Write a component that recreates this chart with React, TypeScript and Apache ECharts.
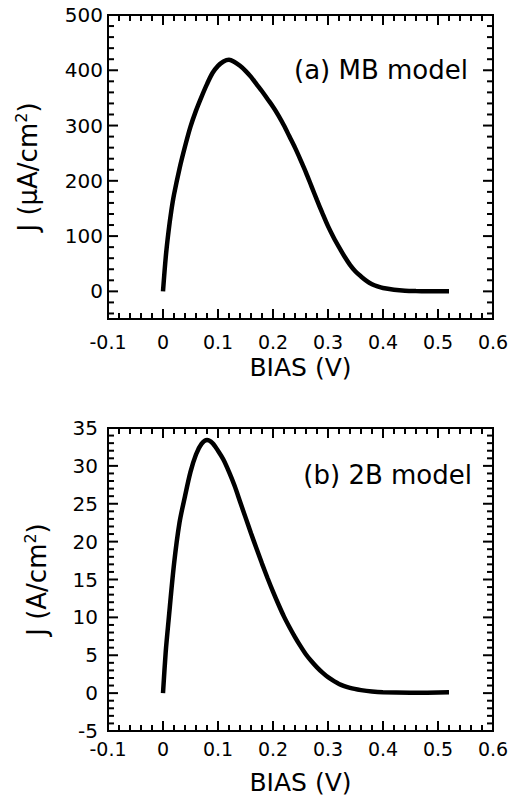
import React, { useEffect, useRef } from "react";
import * as echarts from "echarts";

// ---------- data ----------
const biasMajorTicks = [-0.1, 0, 0.1, 0.2, 0.3, 0.4, 0.5, 0.6];
const biasMinorTicks = [-0.08, -0.06, -0.04, -0.02, 0.02, 0.04, 0.06, 0.08, 0.12, 0.14, 0.16, 0.18, 0.22, 0.24, 0.26, 0.28, 0.32, 0.34, 0.36, 0.38, 0.42, 0.44, 0.46, 0.48, 0.52, 0.54, 0.56, 0.58];

// (a) MB model : J in µA/cm²
const mbBias = [0, 0.005, 0.01, 0.015, 0.02, 0.03, 0.04, 0.05, 0.06, 0.07, 0.08, 0.09, 0.1, 0.11, 0.12, 0.13, 0.14, 0.15, 0.16, 0.17, 0.18, 0.19, 0.2, 0.21, 0.22, 0.23, 0.24, 0.25, 0.26, 0.27, 0.28, 0.29, 0.3, 0.31, 0.32, 0.33, 0.34, 0.35, 0.36, 0.37, 0.38, 0.39, 0.4, 0.42, 0.44, 0.46, 0.48, 0.5, 0.52];
const mbJ = [0, 62, 108, 145, 175, 222, 262, 298, 327, 352, 375, 395, 408, 416, 419, 415, 408, 399, 388, 375, 362, 348, 334, 318, 300, 280, 260, 238, 215, 190, 165, 141, 118, 98, 80, 63, 48, 36, 27, 19, 13, 9, 6, 3, 1.2, 0.5, 0.2, 0, 0];
const mbMajorTicks = [0, 100, 200, 300, 400, 500];
const mbMinorTicks = [-40, -20, 20, 40, 60, 80, 120, 140, 160, 180, 220, 240, 260, 280, 320, 340, 360, 380, 420, 440, 460, 480];

// (b) 2B model : J in A/cm²
const tbBias = [0, 0.005, 0.01, 0.02, 0.03, 0.04, 0.05, 0.06, 0.07, 0.08, 0.09, 0.1, 0.11, 0.12, 0.13, 0.14, 0.15, 0.16, 0.17, 0.18, 0.19, 0.2, 0.21, 0.22, 0.23, 0.24, 0.25, 0.26, 0.27, 0.28, 0.29, 0.3, 0.32, 0.34, 0.36, 0.38, 0.4, 0.45, 0.52];
const tbJ = [0, 5.5, 9.5, 17, 22.5, 26, 29.2, 31.5, 32.9, 33.4, 33.0, 32.0, 30.8, 29.2, 27.4, 25.3, 23.2, 21.1, 19.1, 17.1, 15.2, 13.4, 11.7, 10.1, 8.7, 7.4, 6.2, 5.1, 4.2, 3.4, 2.7, 2.1, 1.2, 0.7, 0.4, 0.2, 0.1, 0.05, 0.1];
const tbMajorTicks = [-5, 0, 5, 10, 15, 20, 25, 30, 35];
const tbMinorTicks = [-4, -3, -2, -1, 1, 2, 3, 4, 6, 7, 8, 9, 11, 12, 13, 14, 16, 17, 18, 19, 21, 22, 23, 24, 26, 27, 28, 29, 31, 32, 33, 34];

const FONT = "DejaVu Sans";
const BLACK = "#000";
const X_MIN = -0.1;
const X_MAX = 0.6;

// inward tick marks on one side of a frame, placed through the axes' scales (scatter rects)
function tickMarks(gridIndex: number, side: "bottom" | "top" | "left" | "right", values: number[], yMin: number, yMax: number, len: number, width: number) {
  const data = values.map((v) =>
    side === "bottom" ? [v, yMin] : side === "top" ? [v, yMax] : side === "left" ? [X_MIN, v] : [X_MAX, v]
  );
  const vertical = side === "bottom" || side === "top";
  const offset =
    side === "bottom" ? [0, -len / 2] : side === "top" ? [0, len / 2] : side === "left" ? [len / 2, 0] : [-len / 2, 0];
  return {
    type: "scatter",
    xAxisIndex: gridIndex,
    yAxisIndex: gridIndex,
    silent: true,
    clip: false,
    z: 3,
    data,
    symbol: "rect",
    symbolSize: vertical ? [width, len] : [len, width],
    symbolOffset: offset,
    itemStyle: { color: BLACK, opacity: 1 },
    emphasis: { disabled: true },
  };
}

function allTicks(gridIndex: number, yMin: number, yMax: number, yMajor: number[], yMinor: number[]) {
  return [
    tickMarks(gridIndex, "bottom", biasMajorTicks, yMin, yMax, 10, 2),
    tickMarks(gridIndex, "top", biasMajorTicks, yMin, yMax, 10, 2),
    tickMarks(gridIndex, "bottom", biasMinorTicks, yMin, yMax, 6, 2),
    tickMarks(gridIndex, "top", biasMinorTicks, yMin, yMax, 6, 2),
    tickMarks(gridIndex, "left", yMajor, yMin, yMax, 10, 2),
    tickMarks(gridIndex, "right", yMajor, yMin, yMax, 10, 2),
    tickMarks(gridIndex, "left", yMinor, yMin, yMax, 6, 2),
    tickMarks(gridIndex, "right", yMinor, yMin, yMax, 6, 2),
  ];
}

function xAxisFor(gridIndex: number, labelMargin: number, nameGap: number) {
  return {
    type: "value",
    gridIndex,
    min: X_MIN,
    max: X_MAX,
    position: "bottom",
    splitLine: { show: false },
    axisLine: { show: false, onZero: false },
    axisTick: { show: false },
    axisLabel: {
      show: true,
      customValues: biasMajorTicks,
      margin: labelMargin,
      fontFamily: FONT,
      fontSize: 19,
      color: BLACK,
    },
    name: "BIAS (V)",
    nameLocation: "middle",
    nameGap,
    nameTextStyle: { fontFamily: FONT, fontSize: 25, color: BLACK },
  };
}

function yAxisFor(gridIndex: number, min: number, max: number, labels: number[], labelMargin: number, name: string, nameGap: number) {
  return {
    type: "value",
    gridIndex,
    min,
    max,
    position: "left",
    splitLine: { show: false },
    axisLine: { show: false, onZero: false },
    axisTick: { show: false },
    axisLabel: {
      show: true,
      customValues: labels,
      margin: labelMargin,
      fontFamily: FONT,
      fontSize: 20,
      color: BLACK,
    },
    name,
    nameLocation: "middle",
    nameGap,
    nameTextStyle: {
      fontFamily: FONT,
      fontSize: 26,
      color: BLACK,
      rich: { sup: { fontFamily: FONT, fontSize: 16, color: BLACK, padding: [0, 0, 14, 0] } },
    },
  };
}

export default function App() {
  const ref = useRef<HTMLDivElement>(null);

  useEffect(() => {
    if (!ref.current) return;
    const chart = echarts.init(ref.current, undefined, { renderer: "svg" });

    const frame = { show: true, borderColor: BLACK, borderWidth: 2 };

    const option: any = {
      animation: false,
      backgroundColor: "#fff",
      grid: [
        { left: 108, top: 15, width: 385, height: 304, ...frame },
        { left: 108, top: 428, width: 385, height: 303, ...frame },
      ],
      xAxis: [xAxisFor(0, 13, 36), xAxisFor(1, 8, 39)],
      yAxis: [
        yAxisFor(0, -50, 500, mbMajorTicks, 5, "J (μA/cm{sup|2})", 65),
        yAxisFor(1, -5, 35, tbMajorTicks, 10, "J (A/cm{sup|2})", 56),
      ],
      series: [
        ...allTicks(0, -50, 500, mbMajorTicks, mbMinorTicks),
        ...allTicks(1, -5, 35, tbMajorTicks, tbMinorTicks),
        {
          type: "line",
          xAxisIndex: 0,
          yAxisIndex: 0,
          data: mbBias.map((v, i) => [v, mbJ[i]]),
          smooth: 0.3,
          showSymbol: false,
          z: 4,
          lineStyle: { color: BLACK, width: 4.5 },
        },
        {
          type: "line",
          xAxisIndex: 1,
          yAxisIndex: 1,
          data: tbBias.map((v, i) => [v, tbJ[i]]),
          smooth: 0.3,
          showSymbol: false,
          z: 4,
          lineStyle: { color: BLACK, width: 4.5 },
        },
      ],
      graphic: [
        {
          type: "text",
          style: { text: "(a) MB model", x: 468, y: 70, align: "right", verticalAlign: "middle", fontFamily: FONT, fontSize: 26, fill: BLACK },
        },
        {
          type: "text",
          style: { text: "(b) 2B model", x: 472, y: 475, align: "right", verticalAlign: "middle", fontFamily: FONT, fontSize: 26, fill: BLACK },
        },
      ],
    };

    chart.setOption(option);
    return () => chart.dispose();
  }, []);

  return (
    <div
      ref={ref}
      style={{ position: "absolute", left: 0, top: 0, width: 512, height: 806, background: "#fff" }}
    />
  );
}
